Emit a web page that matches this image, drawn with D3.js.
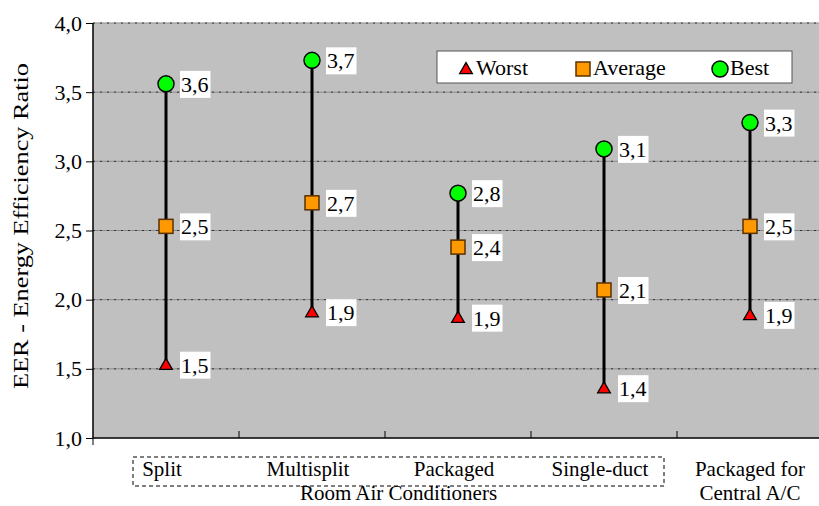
<!DOCTYPE html>
<html lang="en">
<head>
    <meta charset="UTF-8">
    <title>EER by air conditioner type</title>
    <script src="https://d3js.org/d3.v7.min.js"></script>
    <style>
        body { margin: 0; background: #fff; }
        svg { display: block; }
        svg text { font-family: "Liberation Serif", Tinos, "Times New Roman", Times, "DejaVu Serif", serif; }
        .grid { stroke: #8a8a8a; stroke-width: 1; }
        .grid-dot { stroke: #333; stroke-width: 1; stroke-dasharray: 2,5; }
    </style>
</head>
<body>
<svg id="chart" width="819" height="506"></svg>
<script>
    const categories = ["Split", "Multisplit", "Packaged", "Single-duct", "Packaged for\nCentral A/C"];
    const worst   = [1.53, 1.91, 1.87, 1.36, 1.89];
    const average = [2.53, 2.70, 2.38, 2.07, 2.53];
    const best    = [3.56, 3.73, 2.77, 3.09, 3.28];
    const yTicks = [1.0, 1.5, 2.0, 2.5, 3.0, 3.5, 4.0];
    const groupLabel = "Room Air Conditioners";
    const yTitle = "EER - Energy Efficiency Ratio";

    const plot = { left: 93, right: 823, top: 23, bottom: 438 };
    const svg = d3.select("#chart");
    const fmt = v => d3.format(".1f")(v).replace(".", ",");

    const x = d3.scaleBand().domain(categories).range([plot.left, plot.right]);
    const y = d3.scaleLinear().domain([1, 4]).range([plot.bottom, plot.top]);
    const cx = c => x(c) + x.bandwidth() / 2;

    // plot area
    svg.append("rect")
        .attr("x", plot.left).attr("y", plot.top)
        .attr("width", plot.right - plot.left).attr("height", plot.bottom - plot.top)
        .attr("fill", "#c0c0c0");

    // gridlines
    yTicks.slice(1).forEach(t => {
        svg.append("line").attr("class", "grid")
            .attr("x1", plot.left).attr("x2", plot.right)
            .attr("y1", y(t)).attr("y2", y(t));
        svg.append("line").attr("class", "grid-dot")
            .attr("x1", plot.left).attr("x2", plot.right)
            .attr("y1", y(t)).attr("y2", y(t));
    });

    // y axis
    const yAxis = d3.axisLeft(y).tickValues(yTicks).tickFormat(fmt).tickSize(7).tickPadding(4);
    const gy = svg.append("g").attr("transform", `translate(${plot.left},0)`).call(yAxis);
    gy.attr("font-family", null);
    gy.select(".domain").attr("stroke", "#000").attr("stroke-width", 1.5).attr("d", `M0,${plot.top}V${plot.bottom}`);
    gy.selectAll("text").attr("font-size", 22).attr("fill", "#000");

    // x axis line and separators
    svg.append("line")
        .attr("x1", plot.left).attr("x2", plot.right)
        .attr("y1", plot.bottom).attr("y2", plot.bottom)
        .attr("stroke", "#000").attr("stroke-width", 1.5);
    svg.append("line")
        .attr("x1", plot.left).attr("x2", plot.left)
        .attr("y1", plot.bottom).attr("y2", plot.bottom + 7)
        .attr("stroke", "#000");
    categories.slice(1).forEach(c => {
        svg.append("line")
            .attr("x1", x(c)).attr("x2", x(c))
            .attr("y1", plot.bottom - 7).attr("y2", plot.bottom)
            .attr("stroke", "#000");
    });

    // category labels
    categories.forEach((c, i) => {
        const lines = c.split("\n");
        const t = svg.append("text")
            .attr("y", 476)
            .attr("text-anchor", "middle")
            .attr("font-size", 21);
        lines.forEach((l, k) => {
            t.append("tspan").attr("x", cx(c) - (lines.length > 1 ? 0 : 4)).attr("dy", k === 0 ? 0 : 24).text(l);
        });
    });
    svg.append("rect")
        .attr("x", 133).attr("y", 457).attr("width", 531).attr("height", 29)
        .attr("fill", "none").attr("stroke", "#000").attr("stroke-dasharray", "4,3");
    svg.append("text")
        .attr("x", (133 + 664) / 2).attr("y", 500)
        .attr("text-anchor", "middle").attr("font-size", 21)
        .text(groupLabel);

    // y title
    svg.append("text")
        .attr("transform", `translate(28,${226}) rotate(-90)`)
        .attr("text-anchor", "middle").attr("font-size", 21)
        .attr("textLength", 326).attr("lengthAdjust", "spacingAndGlyphs")
        .text(yTitle);

    // high-low lines
    categories.forEach((c, i) => {
        svg.append("line")
            .attr("x1", cx(c)).attr("x2", cx(c))
            .attr("y1", y(best[i])).attr("y2", y(worst[i]))
            .attr("stroke", "#000").attr("stroke-width", 3);
    });

    const tri = d3.symbol().type(d3.symbolTriangle).size(70);
    function marker(g, kind, px, py) {
        if (kind === "worst") {
            g.append("path").attr("d", tri()).attr("transform", `translate(${px},${py + 1})`)
                .attr("fill", "#ff0000").attr("stroke", "#000").attr("stroke-width", 1.3);
        } else if (kind === "average") {
            g.append("rect").attr("x", px - 7).attr("y", py - 7).attr("width", 14).attr("height", 14)
                .attr("fill", "#ff9900").attr("stroke", "#5a3000").attr("stroke-width", 1.5);
        } else {
            g.append("circle").attr("cx", px).attr("cy", py).attr("r", 8)
                .attr("fill", "#00ff00").attr("stroke", "#000").attr("stroke-width", 1.5);
        }
    }

    const series = [["worst", worst], ["average", average], ["best", best]];
    series.forEach(([kind, vals]) => {
        categories.forEach((c, i) => {
            const px = cx(c), py = y(vals[i]);
            marker(svg, kind, px, py);
            const lg = svg.append("g");
            const bg = lg.append("rect").attr("fill", "#fff");
            const t = lg.append("text")
                .attr("x", px + 15).attr("y", py + 8)
                .attr("font-size", 22)
                .text(fmt(vals[i]));
            const bb = t.node().getBBox();
            bg.attr("x", px + 14).attr("y", py - 13)
                .attr("width", bb.width + 3).attr("height", 27);
        });
    });

    // legend
    const legend = svg.append("g");
    legend.append("rect")
        .attr("x", 437).attr("y", 51).attr("width", 355).attr("height", 32)
        .attr("fill", "#fff").attr("stroke", "#555").attr("stroke-width", 1);
    const legendItems = [["worst", "Worst", 466], ["average", "Average", 583], ["best", "Best", 720]];
    legendItems.forEach(([kind, name, lx]) => {
        marker(legend, kind, lx, 69);
        legend.append("text").attr("x", lx + 10).attr("y", 75)
            .attr("font-size", 22).text(name);
    });
</script>
</body>
</html>
